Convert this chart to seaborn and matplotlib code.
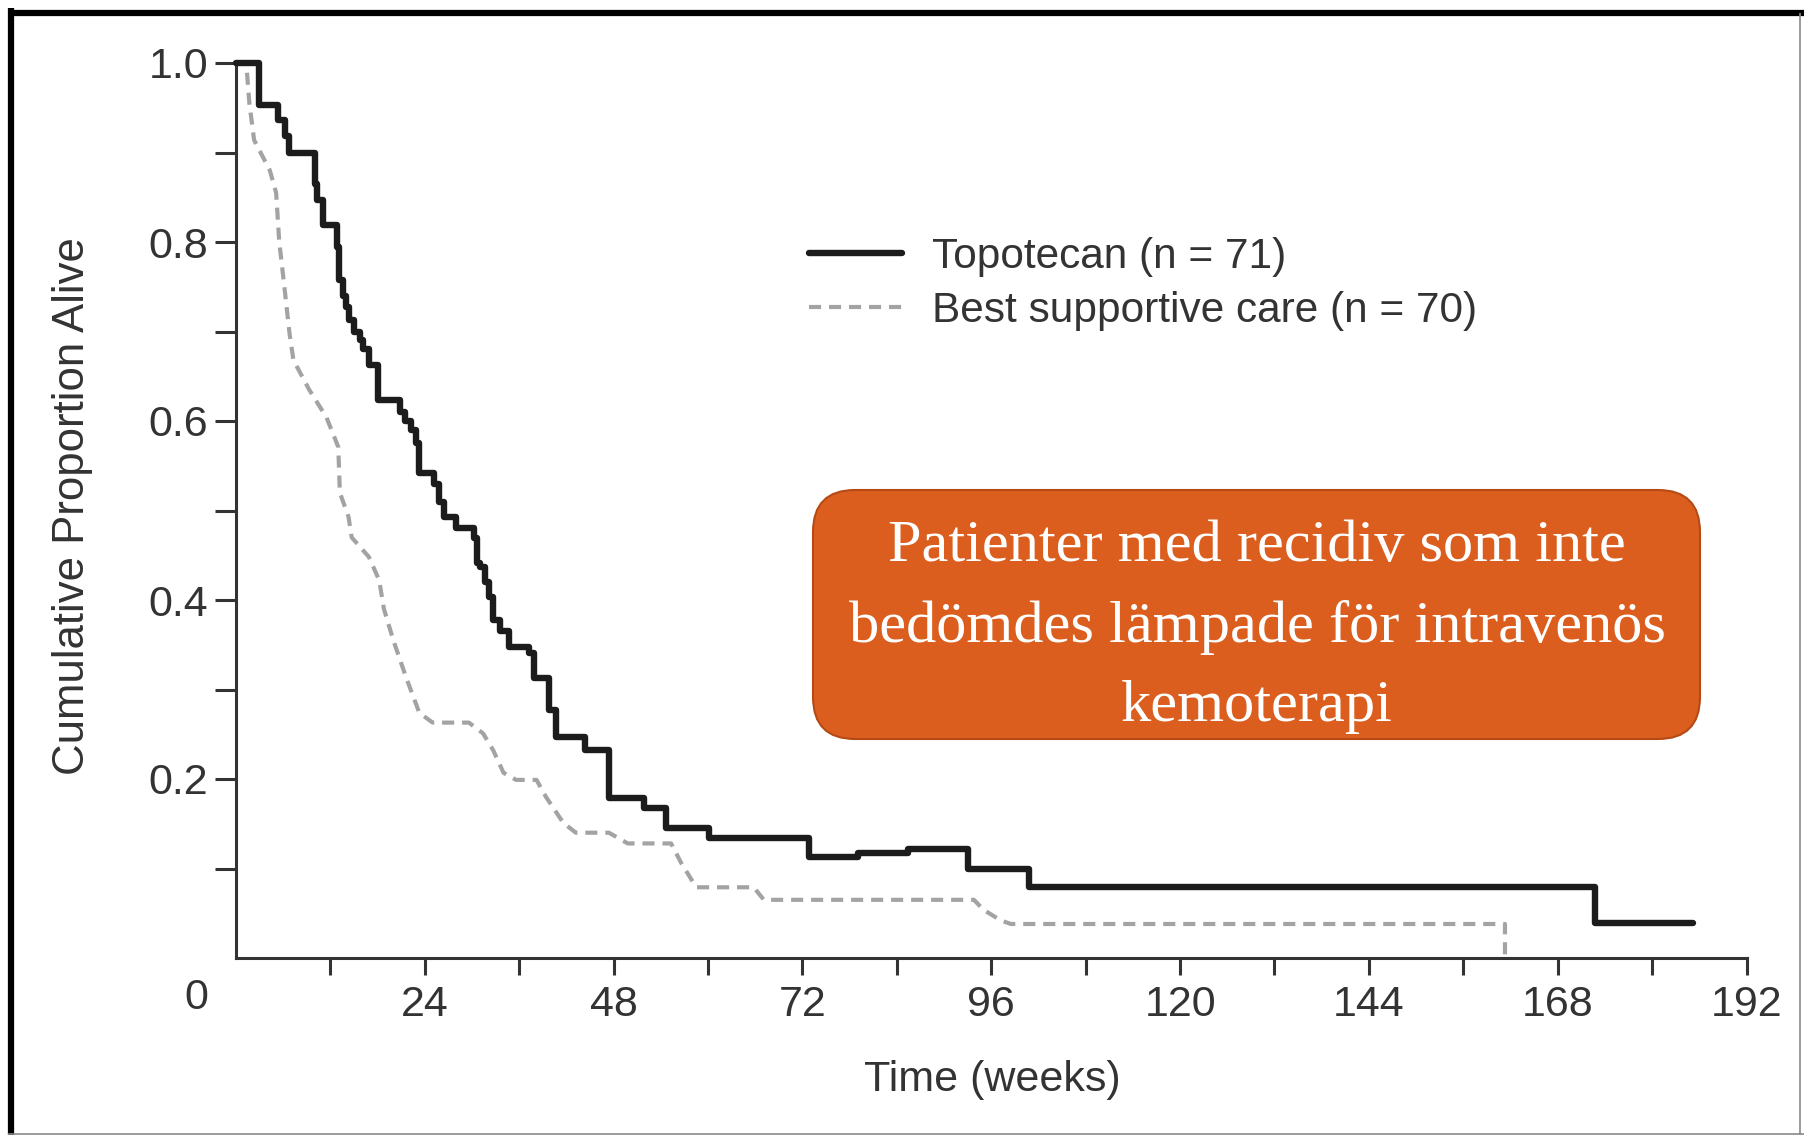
import matplotlib
matplotlib.use("Agg")
import matplotlib.pyplot as plt
from matplotlib.lines import Line2D
from matplotlib.patches import FancyBboxPatch
from matplotlib.transforms import IdentityTransform
import seaborn as sns

# Kaplan-Meier estimates: time in weeks and cumulative proportion alive
topotecan_weeks = [0, 2.9, 5.4, 6.2, 6.8, 10.0, 10.3, 11.1, 12.8, 13.1, 13.6, 14.0, 14.4,
                   15.0, 15.7, 16.2, 16.9, 18.0, 20.8, 21.5, 22.3, 22.9, 23.3, 25.2, 25.8,
                   26.5, 28.0, 30.2, 30.6, 31.0, 31.6, 32.2, 32.7, 33.5, 34.7, 37.3, 37.9,
                   39.8, 40.7, 44.3, 47.4, 51.9, 54.7, 60.1, 72.8, 79.0, 85.4, 93.1, 100.8,
                   172.8, 185.2]
topotecan_surv = [1.0, 0.953, 0.936, 0.918, 0.90, 0.865, 0.847, 0.819, 0.794, 0.757, 0.74,
                  0.727, 0.713, 0.70, 0.69, 0.68, 0.663, 0.623, 0.61, 0.60, 0.59, 0.575,
                  0.542, 0.53, 0.51, 0.493, 0.48, 0.469, 0.441, 0.437, 0.42, 0.403, 0.378,
                  0.365, 0.347, 0.341, 0.313, 0.277, 0.247, 0.232, 0.179, 0.168, 0.145,
                  0.134, 0.113, 0.117, 0.122, 0.099, 0.079, 0.039, 0.039]

bsc_weeks = [0, 1.3, 1.7, 2.3, 4.3, 5.1, 5.5, 6.2, 6.8, 7.3, 9.3, 11.5, 13.0, 13.2, 14.3,
             14.7, 16.9, 18.2, 18.8, 20.0, 21.6, 23.3, 25.0, 29.6, 31.4, 32.7, 34.0, 35.6,
             38.2, 39.4, 41.6, 43.2, 47.4, 49.8, 55.3, 56.6, 58.5, 65.8, 67.1, 93.8, 95.0,
             97.2, 98.5, 161.3, 161.3]
bsc_surv = [1.0, 1.0, 0.955, 0.914, 0.88, 0.855, 0.80, 0.746, 0.698, 0.668, 0.635, 0.604,
            0.571, 0.52, 0.493, 0.47, 0.448, 0.422, 0.39, 0.355, 0.314, 0.274, 0.263, 0.263,
            0.251, 0.232, 0.207, 0.199, 0.199, 0.18, 0.151, 0.14, 0.14, 0.128, 0.128, 0.106,
            0.079, 0.079, 0.065, 0.065, 0.054, 0.042, 0.038, 0.038, 0.0]

series_labels = ["Topotecan (n = 71)", "Best supportive care (n = 70)"]
x_major = [24, 48, 72, 96, 120, 144, 168, 192]
x_minor = [12, 36, 60, 84, 108, 132, 156, 180]
y_major = [0.2, 0.4, 0.6, 0.8, 1.0]
y_major_labels = ["0.2", "0.4", "0.6", "0.8", "1.0"]
y_minor = [0.1, 0.3, 0.5, 0.7, 0.9]
x_title = "Time (weeks)"
y_title = "Cumulative Proportion Alive"
callout_text = "Patienter med recidiv som inte\nbedömdes lämpade för intravenös\nkemoterapi"

sns.set_style("ticks")
plt.rcParams["font.family"] = ["Liberation Sans", "DejaVu Sans"]

W, H = 1804, 1135
TXT = "#333333"
TOPO_C = "#1c1c1c"
BSC_C = "#a3a3a3"
BSC_DASH = (0, (2.9, 1.9))
TOPO_LW = 4.6

fig = plt.figure(figsize=(W / 100, H / 100), dpi=100)
fig.patch.set_facecolor("white")
ax = fig.add_axes([236 / W, 1 - 958 / H, (1746.5 - 236) / W, (958 - 63) / H])
ax.set_facecolor("white")

sns.lineplot(x=topotecan_weeks, y=topotecan_surv, ax=ax, color=TOPO_C, linewidth=TOPO_LW,
             drawstyle="steps-post", estimator=None, sort=False, clip_on=False, zorder=4)
sns.lineplot(x=bsc_weeks, y=bsc_surv, ax=ax, color=BSC_C, linewidth=3.0,
             linestyle=BSC_DASH, estimator=None, sort=False, clip_on=False, zorder=3)

ax.set_xlim(0, 192)
ax.set_ylim(0, 1.0)
sns.despine(ax=ax)
for side in ("left", "bottom"):
    ax.spines[side].set_linewidth(2.2)
    ax.spines[side].set_color(TXT)

ax.set_xticks(x_major)
ax.set_xticklabels([str(v) for v in x_major])
ax.set_xticks(x_minor, minor=True)
ax.set_yticks(y_major)
ax.set_yticklabels(y_major_labels)
ax.set_yticks(y_minor, minor=True)
ax.tick_params(axis="y", which="both", length=15, width=2.2, color=TXT, direction="out",
               pad=5, labelsize=31, labelcolor=TXT)
ax.tick_params(axis="x", which="both", length=12.5, width=2.2, color=TXT, direction="out",
               pad=7, labelsize=31, labelcolor=TXT)
ax.annotate("0", xy=(0, 0), xycoords="data", xytext=(-40, -40), textcoords="offset pixels",
            ha="center", va="center", fontsize=31, color=TXT)

ax.set_xlabel(x_title, fontsize=31, color=TXT, va="center", ha="center")
ax.xaxis.set_label_coords((992 - 236) / 1510.5, (958 - 1080) / 895)
ax.set_ylabel(y_title, fontsize=31.5, color=TXT, va="center", ha="center")
ax.yaxis.set_label_coords((73 - 236) / 1510.5, (958 - 506) / 895)

handles = [Line2D([], [], color=TOPO_C, lw=TOPO_LW),
           Line2D([], [], color=BSC_C, lw=3.0, linestyle=BSC_DASH)]
fig.legend(handles, series_labels, loc="upper left", bbox_to_anchor=(809 / W, 1 - 237 / H),
           frameon=False, fontsize=30.5, labelcolor=TXT, handlelength=2.2, handletextpad=0.7,
           labelspacing=0.33, borderpad=0, borderaxespad=0)

# Orange callout box with the Swedish caption
box = FancyBboxPatch((813, H - 739), 887, 249, boxstyle="round,pad=0,rounding_size=42",
                     transform=IdentityTransform(), facecolor="#DB5E1E", edgecolor="#B64A15",
                     linewidth=1.5, zorder=5)
fig.add_artist(box)
fig.text(1257 / W, 1 - 627 / H, callout_text, ha="center", va="center", ma="center",
         color="white", fontsize=43.5, family=["Liberation Serif", "DejaVu Serif"],
         linespacing=1.62, zorder=6)

# Outer frame of the panel
frame_kw = dict(transform=IdentityTransform(), solid_capstyle="butt")
fig.add_artist(Line2D([11, 11], [0, H - 8], color="black", lw=4.5, **frame_kw))
fig.add_artist(Line2D([8, W], [H - 12.5, H - 12.5], color="black", lw=4.5, **frame_kw))
fig.add_artist(Line2D([W - 4, W - 4], [0, H - 12.5], color="#8a8a8a", lw=1.2, **frame_kw))
fig.add_artist(Line2D([8, W], [1.5, 1.5], color="#8a8a8a", lw=1.2, **frame_kw))

fig.savefig("out.png", dpi=100, facecolor="white")
